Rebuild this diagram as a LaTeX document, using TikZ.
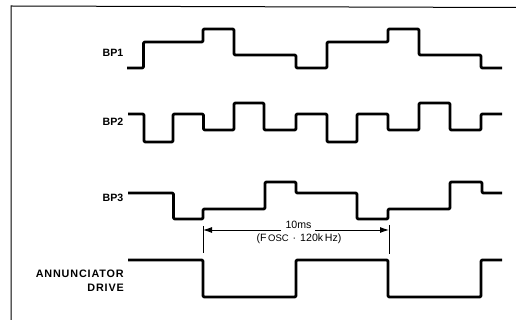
\documentclass[tikz,border=0pt]{standalone}
\usepackage{fontspec}
\setmainfont{Liberation Sans}
\newfontfamily\spacedfont[LetterSpace=8]{Liberation Sans}
\usetikzlibrary{arrows.meta}
\tikzset{
  wave/.style={line width=2.8pt,line cap=butt,line join=round,rounded corners=1.2pt},
  framel/.style={line width=1pt},
  lab/.style={font=\fontsize{10.6}{12}\selectfont\bfseries,anchor=east,inner sep=0pt},
  labwide/.style={font=\spacedfont\fontsize{10.8}{12}\selectfont\bfseries,anchor=east,inner sep=0pt},
  annot/.style={font=\fontsize{10.6}{12}\selectfont,inner sep=0pt},
  dim/.style={line width=0.9pt},
  dimarrow/.style={dim,-{Latex[length=9pt,width=6pt]}}
}
\begin{document}
\begin{tikzpicture}[x=1pt,y=-1pt]
\useasboundingbox (0,0) rectangle (516,320);
% frame
\coordinate (fbl) at (11,320);
\coordinate (ftl) at (11,6);
\coordinate (ftr) at (516,7.5);
\draw[framel] (fbl) -- (ftl) -- (ftr);
% labels
\node[lab] (bp1) at (123.5,52.5) {BP1};
\node[lab] (bp2) at (123.5,121.5) {BP2};
\node[lab] (bp3) at (123.5,198) {BP3};
\node[labwide] (ann) at (124,273.5) {ANNUNCIATOR};
\node[labwide] (drv) at (124,287.5) {DRIVE};
% BP1
\draw[wave] (127,68) -| (143.5,42) -| (203,29) -| (234,55) -| (296,68) -| (327,42) -| (388,29) -| (419,55) -| (481,68) -- (502,68);
% BP2
\draw[wave] (128,114) -| (144,142) -| (173,114) -| (203.5,130) -| (234,103) -| (264,130) -| (296,114) -| (327,142) -| (357,114) -| (388,130) -| (419,103) -| (450,130) -| (481,114) -- (502,114);
% BP3
\draw[wave] (128,193) -| (173.5,219) -| (203,209) -| (265,182) -| (296,193) -| (357,219) -| (388,209) -| (450,182) -| (482,193) -- (502,193);
% Annunciator
\draw[wave] (128,260) -| (203,297) -| (296,260) -| (388,297) -| (481,260) -- (502,260);
% dimension
\coordinate (dlt) at (203,226);
\coordinate (dlb) at (203,253);
\coordinate (drt) at (389,225);
\coordinate (drb) at (389,254);
\coordinate (dla) at (203,230);
\coordinate (dra) at (389,230);
\coordinate (gapl) at (281,230);
\coordinate (gapr) at (315,230);
\draw[dim] (dlt) -- (dlb);
\draw[dim] (drt) -- (drb);
\draw[dimarrow] (gapl) -- (dla);
\draw[dimarrow] (gapr) -- (dra);
\node[annot] (t10) at (298.5,224.5) {10ms};
\node[annot] (tf) at (299,239) {(F{\fontsize{9.5}{10}\selectfont\,OSC}\hspace{4pt}·\hspace{4pt}120k\,Hz)};
\end{tikzpicture}
\end{document}
